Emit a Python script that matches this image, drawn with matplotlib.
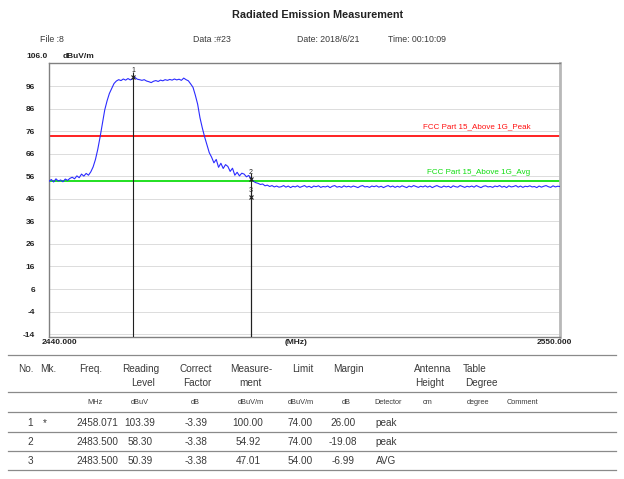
import numpy as np
import matplotlib
matplotlib.use("Agg")
import matplotlib.pyplot as plt

plt.rcParams['font.family'] = ['Liberation Sans', 'DejaVu Sans']

# sweep: 2440 - 2550 MHz, 0.5 MHz step
f_start, f_stop, f_step = 2440.0, 2550.0, 0.5

# peak trace, dBuV/m, one value per step
level_dbuv = [
    53.8, 54.6, 53.5, 54.9, 53.9, 54.4, 53.6, 54.8, 54.2, 55.1,   # 2440
    55.6, 54.9, 56.2, 55.4, 57.0, 56.1, 57.3, 56.5, 58.0, 60.2,   # 2445
    63.5, 68.0, 73.5, 79.5, 85.5, 89.5, 92.8, 95.0, 97.2, 98.3,   # 2450
    98.9, 98.5, 99.2, 98.7, 99.4, 98.8, 99.3, 99.9, 99.1, 98.9,   # 2455
    98.6, 98.9, 98.3, 98.0, 97.6, 98.2, 98.5, 98.1, 98.7, 98.4,   # 2460
    98.9, 98.6, 99.0, 98.7, 99.2, 98.8, 99.1, 98.6, 99.6, 98.9,   # 2465
    98.4, 97.0, 95.5, 92.0, 88.0, 82.0, 77.5, 73.5, 70.0, 66.5,   # 2470
    64.5, 62.0, 63.5, 60.0, 61.8, 59.5, 61.2, 60.4, 58.2, 59.6,   # 2475
    56.5, 57.8, 56.2, 57.4, 57.0, 55.8, 56.4, 54.9, 53.8, 53.2,   # 2480
    52.9, 52.4, 52.6, 51.8, 52.1, 51.5, 51.9, 51.3, 51.7, 51.2,   # 2485
    51.4, 51.9, 51.2, 51.7, 51.0, 51.6, 51.3, 51.8, 51.1, 51.5,   # 2490
    51.9, 51.2, 51.6, 51.0, 51.7, 51.4, 51.8, 51.1, 51.5, 51.3,
    51.7, 51.0, 51.6, 51.9, 51.2, 51.5, 51.1, 51.8, 51.3, 51.6,
    51.2, 51.7, 51.4, 51.0, 51.6, 51.9, 51.3, 51.5, 51.1, 51.7,
    51.4, 51.8, 51.2, 51.6, 51.0, 51.5, 51.9, 51.3, 51.7, 51.1,
    51.6, 51.2, 51.8, 51.4, 51.0, 51.7, 51.3, 51.9, 51.5, 51.1,
    51.6, 51.3, 51.8, 51.2, 51.7, 51.0, 51.5, 51.9, 51.4, 51.1,
    51.7, 51.3, 51.6, 51.0, 51.8, 51.4, 51.2, 51.9, 51.5, 51.1,
    51.6, 51.3, 51.7, 51.2, 51.9, 51.4, 51.0, 51.6, 51.8, 51.3,
    51.5, 51.1, 51.7, 51.4, 51.9, 51.2, 51.6, 51.0, 51.8, 51.3,
    51.5, 51.9, 51.2, 51.7, 51.1, 51.6, 51.4, 51.8, 51.3, 51.5,
    51.0, 51.7, 51.2, 51.6, 51.9, 51.4, 51.1, 51.8, 51.3, 51.6,
    51.5,
]

# limit lines
limit_peak = 74.0
limit_avg = 54.0
limit_peak_name = "FCC Part 15_Above 1G_Peak"
limit_avg_name = "FCC Part 15_Above 1G_Avg"

# y axis
y_top, y_bottom = 106.3, -15.3
y_ticks = [96, 86, 76, 66, 56, 46, 36, 26, 16, 6, -4, -14]

# marker table
mk_no = ["1", "2", "3"]
mk_flag = ["*", "", ""]
mk_freq = [2458.071, 2483.500, 2483.500]
mk_reading = [103.39, 58.30, 50.39]
mk_factor = [-3.39, -3.38, -3.38]
mk_level = [100.00, 54.92, 47.01]
mk_limit = [74.00, 74.00, 54.00]
mk_margin = [26.00, -19.08, -6.99]
mk_detector = ["peak", "peak", "AVG"]

W, H = 624, 479
fig = plt.figure(figsize=(W / 100, H / 100), dpi=100)


def fx(px):
    return px / W


def fy(py):
    return 1 - py / H


txt = "#3a3a3a"

# header
fig.text(fx(318), fy(15), "Radiated Emission Measurement", ha="center", va="center",
         fontsize=7.8, fontweight="bold", color="#222222")
fig.text(fx(40), fy(39), "File :8", ha="left", va="center", fontsize=6.3, color=txt)
fig.text(fx(193), fy(39), "Data :#23", ha="left", va="center", fontsize=6.3, color=txt)
fig.text(fx(297), fy(39), "Date: 2018/6/21", ha="left", va="center", fontsize=6.3, color=txt)
fig.text(fx(388), fy(39), "Time: 00:10:09", ha="left", va="center", fontsize=6.3, color=txt)

# plot area
ax = fig.add_axes([fx(49), fy(337), fx(560) - fx(49), fy(63) - fy(337)])
freq = np.arange(f_start, f_stop + f_step / 2, f_step)
ax.set_xlim(f_start, f_stop)
ax.set_ylim(y_bottom, y_top)

for t in y_ticks:
    ax.axhline(t, color="#dcdcdc", lw=0.7, zorder=1)

ax.plot(freq, level_dbuv, color="#2b2bff", lw=0.8, zorder=3)

ax.axhline(limit_peak, color="#ff1010", lw=1.3, zorder=2)
ax.axhline(limit_avg, color="#10dd10", lw=1.3, zorder=2)
ax.text(2543.6, limit_peak + 2.5, limit_peak_name, ha="right", va="bottom",
        fontsize=5.8, color="#ff1010")
ax.text(2543.6, limit_avg + 2.0, limit_avg_name, ha="right", va="bottom",
        fontsize=5.8, color="#10dd10")

# markers
for n, f, lv in zip(mk_no, mk_freq, mk_level):
    ax.vlines(f, y_bottom, lv + 2.5, color="#202020", lw=0.8, zorder=4)
    ax.plot(f, lv, marker="x", ms=3.5, mew=0.8, color="#202020", zorder=5)
    ax.text(f, lv + 1.2, n, ha="center", va="bottom", fontsize=5, color="#202020")

ax.set_yticks(y_ticks)
ax.set_yticklabels([str(t) for t in y_ticks], fontsize=6, fontweight="bold", color="#222222")
ax.tick_params(axis="y", length=0, pad=10)
ax.set_xticks([])
for s in ax.spines.values():
    s.set_color("#808080")
    s.set_linewidth(1.0)
ax.spines["right"].set_color("#b8b8b8")
ax.spines["right"].set_linewidth(2.0)

fig.text(fx(48), fy(57), "106.0", ha="right", va="center", fontsize=6,
         fontweight="bold", color="#222222")
fig.text(fx(63), fy(57), "dBuV/m", ha="left", va="center", fontsize=6,
         fontweight="bold", color="#222222")
fig.text(fx(59), fy(343), "%.3f" % f_start, ha="center", va="center", fontsize=6,
         fontweight="bold", color="#222222")
fig.text(fx(296), fy(343), "(MHz)", ha="center", va="center", fontsize=6,
         fontweight="bold", color="#222222")
fig.text(fx(554), fy(343), "%.3f" % f_stop, ha="center", va="center", fontsize=6,
         fontweight="bold", color="#222222")

# table
line_c = "#8a8a8a"
for ly in [355, 392, 412, 432, 451, 470]:
    fig.add_artist(plt.Line2D([fx(8), fx(616)], [fy(ly), fy(ly)], color=line_c, lw=0.9))

head1 = [(26, "No."), (48, "Mk."), (91, "Freq."), (141, "Reading"), (196, "Correct"),
         (251, "Measure-"), (303, "Limit"), (348, "Margin"), (433, "Antenna"), (475, "Table")]
head2 = [(143, "Level"), (197, "Factor"), (250, "ment"), (430, "Height"), (481, "Degree")]
units = [(95, "MHz"), (140, "dBuV"), (195, "dB"), (251, "dBuV/m"), (301, "dBuV/m"),
         (346, "dB"), (388, "Detector"), (428, "cm"), (478, "degree"), (522, "Comment")]
for x, s in head1:
    fig.text(fx(x), fy(369), s, ha="center", va="center", fontsize=7.2, color=txt)
for x, s in head2:
    fig.text(fx(x), fy(383), s, ha="center", va="center", fontsize=7.2, color=txt)
for x, s in units:
    fig.text(fx(x), fy(403), s, ha="center", va="center", fontsize=5.3, color=txt)

row_y = [423, 442, 461]
for i, ry in enumerate(row_y):
    cells = [(30, mk_no[i]), (45, mk_flag[i]), (97, "%.3f" % mk_freq[i]),
             (140, "%.2f" % mk_reading[i]), (196, "%.2f" % mk_factor[i]),
             (248, "%.2f" % mk_level[i]), (300, "%.2f" % mk_limit[i]),
             (343, "%.2f" % mk_margin[i]), (386, mk_detector[i])]
    for x, s in cells:
        fig.text(fx(x), fy(ry), s, ha="center", va="center", fontsize=7.2, color=txt)

fig.savefig("out.png", dpi=100)
